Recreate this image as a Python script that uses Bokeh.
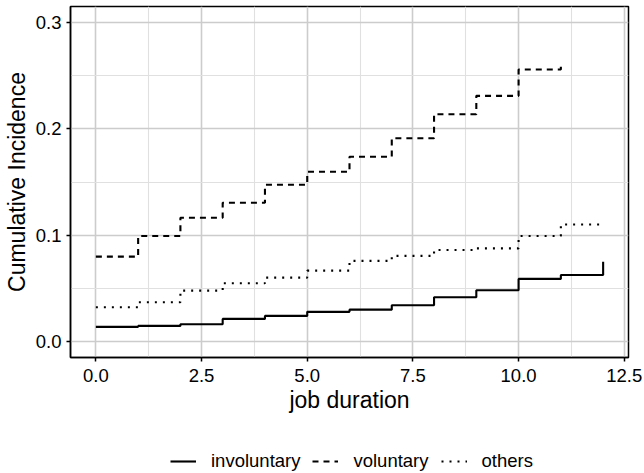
from bokeh.plotting import figure
from bokeh.layouts import column
from bokeh.models import (Range1d, Legend, LegendItem, FixedTicker,
                          PrintfTickFormatter)
from bokeh.embed import file_html
from bokeh.resources import INLINE

# ---- data ----
duration = list(range(13))
involuntary = [0.0138, 0.0147, 0.0163, 0.0213, 0.0241, 0.0279, 0.0300,
               0.0341, 0.0416, 0.0482, 0.0589, 0.0626, 0.0750]
voluntary_x = list(range(12))
voluntary = [0.0798, 0.0992, 0.1164, 0.1305, 0.1474, 0.1596, 0.1737,
             0.1912, 0.2137, 0.2310, 0.2557, 0.2597]
others = [0.0322, 0.0369, 0.0479, 0.0548, 0.0601, 0.0667, 0.0758,
          0.0805, 0.0861, 0.0876, 0.0992, 0.1100, 0.1100]

x_ticks = [0, 2.5, 5, 7.5, 10, 12.5]
x_minor = [1.25, 3.75, 6.25, 8.75, 11.25]
y_ticks = [0, 0.1, 0.2, 0.3]
y_minor = [0.05, 0.15, 0.25]
series_names = ["involuntary", "voluntary", "others"]

FONT = "Liberation Sans"
STYLES = [dict(line_dash="solid"), dict(line_dash="6 5"), dict(line_dash="2 6")]

p = figure(width=644, height=440,
           x_range=Range1d(-0.6, 12.6), y_range=Range1d(-0.015, 0.315),
           output_backend="svg", toolbar_location=None,
           min_border_left=69, min_border_right=16,
           min_border_top=6, min_border_bottom=83)

p.background_fill_color = "white"
p.border_fill_color = "white"
p.outline_line_color = "black"
p.outline_line_width = 1.5

p.xaxis.ticker = FixedTicker(ticks=x_ticks, minor_ticks=x_minor)
p.yaxis.ticker = FixedTicker(ticks=y_ticks, minor_ticks=y_minor)
p.xaxis.formatter = PrintfTickFormatter(format="%.1f")
p.yaxis.formatter = PrintfTickFormatter(format="%.1f")

for ax in (p.xaxis, p.yaxis):
    ax.axis_line_color = "black"
    ax.axis_line_width = 1.5
    ax.major_tick_line_color = "black"
    ax.major_tick_line_width = 1.5
    ax.major_tick_out = 4
    ax.major_tick_in = 0
    ax.minor_tick_out = 0
    ax.minor_tick_in = 0
    ax.major_label_text_font = FONT
    ax.major_label_text_font_size = "18.5px"
    ax.major_label_text_color = "black"
    ax.axis_label_text_font = FONT
    ax.axis_label_text_font_size = "23px"
    ax.axis_label_text_font_style = "normal"
    ax.axis_label_text_color = "black"

p.xaxis.axis_label = "job duration"
p.yaxis.axis_label = "Cumulative Incidence"
p.xaxis.major_label_standoff = 7
p.yaxis.major_label_standoff = 5
p.xaxis.axis_label_standoff = 2
p.yaxis.axis_label_standoff = 3

for g in (p.xgrid, p.ygrid):
    g.grid_line_color = "#cccccc"
    g.grid_line_width = 1.6
    g.minor_grid_line_color = "#e0e0e0"
    g.minor_grid_line_width = 1.1

series = [(duration, involuntary), (voluntary_x, voluntary), (duration, others)]
for (xs, ys), st in zip(series, STYLES):
    p.step(xs, ys, mode="after", line_color="black", line_width=2.1, **st)

# ---- legend strip below the plot (ggplot-style bottom legend) ----
leg = figure(width=644, height=33, x_range=Range1d(100, 101),
             y_range=Range1d(100, 101), output_backend="svg",
             toolbar_location=None, x_axis_type=None, y_axis_type=None,
             min_border=0)
leg.outline_line_color = None
leg.background_fill_color = "white"
leg.border_fill_color = "white"
leg.grid.visible = False

items = []
for name, (xs, ys), st in zip(series_names, series, STYLES):
    r = leg.step(xs, ys, mode="after", line_color="black", line_width=2.1, **st)
    items.append(LegendItem(label=name, renderers=[r]))

legend = Legend(items=items, location=(100, 1), orientation="horizontal",
                glyph_width=26, glyph_height=20, label_standoff=15,
                spacing=12, padding=0, margin=0,
                border_line_color=None, background_fill_alpha=0,
                label_text_font=FONT, label_text_font_size="18.5px",
                label_text_color="black")
leg.add_layout(legend, "center")

layout = column(p, leg, spacing=0)
open("out.html", "w").write(file_html(layout, INLINE))
